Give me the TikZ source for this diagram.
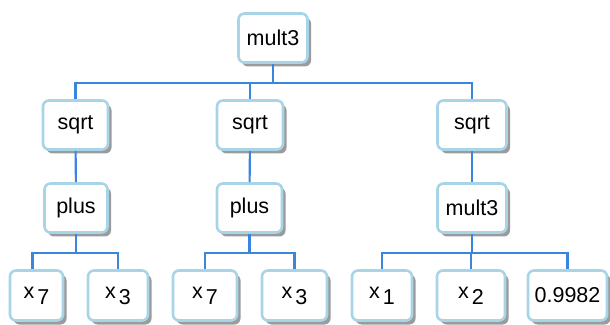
\documentclass[tikz,border=0pt]{standalone}
\usepackage{fontspec}
\setmainfont{Liberation Sans}
\usetikzlibrary{shadows}
\definecolor{boxborder}{RGB}{168,212,232}
\definecolor{conncol}{RGB}{58,134,222}
\tikzset{
  tbox/.style={draw=boxborder, line width=2.6pt, fill=white, rounded corners=6pt,
    minimum height=49pt, inner sep=2pt, text=black,
    font=\fontsize{21.5}{25}\selectfont,
    drop shadow={shadow xshift=3.5pt, shadow yshift=-4pt, opacity=0.6, fill=black!65}},
  conn/.style={draw=conncol, line width=2.1pt}
}
\newcommand{\xv}[1]{x\hspace{3pt}\raisebox{-6pt}{#1}}
\begin{document}
\begin{tikzpicture}[x=1pt,y=1pt]
\useasboundingbox (0,0) rectangle (610,324);
% nodes
\node[tbox, minimum width=69pt] (root) at (273,286) {mult3};
\node[tbox, minimum width=65pt] (s1) at (75.5,199) {sqrt};
\node[tbox, minimum width=66pt] (s2) at (250,199) {sqrt};
\node[tbox, minimum width=69pt] (s3) at (472,199) {sqrt};
\node[tbox, minimum width=63pt] (p1) at (76,116) {plus};
\node[tbox, minimum width=65pt] (p2) at (249.5,116) {plus};
\node[tbox, minimum width=69pt] (m3) at (472,116) {mult3};
\node[tbox, minimum width=53pt, minimum height=50pt] (a1) at (36.5,28.5) {\xv{7}};
\node[tbox, minimum width=60pt, minimum height=50pt] (a2) at (118,28.5) {\xv{3}};
\node[tbox, minimum width=64pt, minimum height=50pt] (b1) at (205,28.5) {\xv{7}};
\node[tbox, minimum width=65pt, minimum height=50pt] (b2) at (294.5,28.5) {\xv{3}};
\node[tbox, minimum width=60pt, minimum height=50pt] (c1) at (382,28.5) {\xv{1}};
\node[tbox, minimum width=68pt, minimum height=50pt] (c2) at (471,28.5) {\xv{2}};
\node[tbox, minimum width=79pt, minimum height=50pt] (c3) at (567.5,28.5) {0.9982};
% bus levels
\coordinate (bt) at (0,241);
\coordinate (bb) at (0,71);
% top connectors
\draw[conn] (root.south) -- (root.south |- bt);
\draw[conn] (s1.north) -- (s1.north |- bt) -- (s3.north |- bt) -- (s3.north);
\draw[conn] (s2.north) -- (s2.north |- bt);
% sqrt to level 2
\draw[conn] (s1) -- (p1);
\draw[conn] (s2) -- (p2);
\draw[conn] (s3) -- (m3);
% lower connectors
\coordinate (a1d) at ([xshift=-4pt]a1.north);
\draw[conn] (p1.south) -- (p1.south |- bb);
\draw[conn] (a1d) -- (a1d |- bb) -- (a2.north |- bb) -- (a2.north);
\draw[conn] (p2.south) -- (p2.south |- bb);
\draw[conn] (b1.north) -- (b1.north |- bb) -- (b2.north |- bb) -- (b2.north);
\draw[conn] (m3.south) -- (m3.south |- bb);
\draw[conn] (c1.north) -- (c1.north |- bb) -- (c3.north |- bb) -- (c3.north);
\draw[conn] (c2.north) -- (c2.north |- bb);
\end{tikzpicture}
\end{document}
